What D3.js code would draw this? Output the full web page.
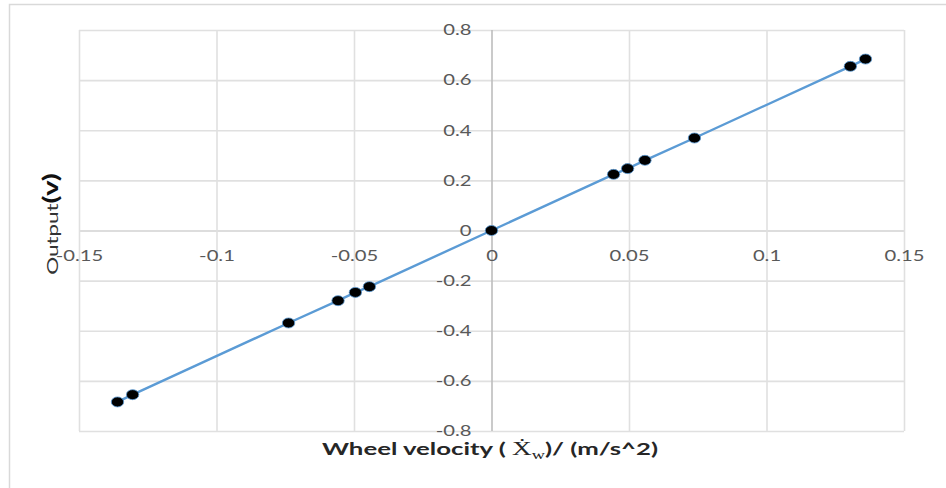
<!DOCTYPE html>
<html>
<head>
<meta charset="utf-8">
<script src="https://cdn.jsdelivr.net/npm/d3@7/dist/d3.min.js"></script>
<style>
  html, body { margin: 0; padding: 0; background: #fff; }
  svg { display: block; }
</style>
</head>
<body>
<div id="chart"></div>
<script>
// Wheel velocity vs. sensor output
const wheelVelocity = [-0.136, -0.1305, -0.0738, -0.0558, -0.0495, -0.0444, 0, 0.0444, 0.0495, 0.0558, 0.0738, 0.1305, 0.136];
const outputVolts   = [-0.684, -0.655, -0.369, -0.280, -0.247, -0.224, 0, 0.224, 0.247, 0.280, 0.369, 0.655, 0.684];

const xTicks = [-0.15, -0.1, -0.05, 0, 0.05, 0.1, 0.15];
const xTickLabels = ["-0.15", "-0.1", "-0.05", "0", "0.05", "0.1", "0.15"];
const yTicks = [-0.8, -0.6, -0.4, -0.2, 0, 0.2, 0.4, 0.6, 0.8];
const yTickLabels = ["-0.8", "-0.6", "-0.4", "-0.2", "0", "0.2", "0.4", "0.6", "0.8"];

const W = 946, H = 488;
const plot = { left: 79, right: 904, top: 30, bottom: 431 };
const labelFont = "Lato, 'Open Sans', 'Liberation Sans', sans-serif";
const stretch = "scale(1.35,1)";

const svg = d3.select("#chart").append("svg")
  .attr("width", W).attr("height", H);

// chart frame
svg.append("rect")
  .attr("x", 9.5).attr("y", 4.5)
  .attr("width", W + 20).attr("height", H + 20)
  .attr("fill", "#fff").attr("stroke", "#d9d9d9").attr("stroke-width", 1.5);

const x = d3.scaleLinear().domain([-0.15, 0.15]).range([plot.left, plot.right]);
const y = d3.scaleLinear().domain([-0.8, 0.8]).range([plot.bottom, plot.top]);

// gridlines
const gx = svg.append("g")
  .attr("transform", `translate(0,${plot.bottom})`)
  .call(d3.axisBottom(x).tickValues(xTicks).tickSize(-(plot.bottom - plot.top)).tickFormat(""));
gx.select(".domain").remove();
gx.selectAll(".tick line")
  .attr("stroke", d => d === 0 ? "#bdbdbd" : "#e0e0e0")
  .attr("stroke-width", 1.6);

const gy = svg.append("g")
  .attr("transform", `translate(${plot.left},0)`)
  .call(d3.axisLeft(y).tickValues(yTicks).tickSize(-(plot.right - plot.left)).tickFormat(""));
gy.select(".domain").remove();
gy.selectAll(".tick line")
  .attr("stroke", d => d === 0 ? "#d2d2d2" : "#e0e0e0")
  .attr("stroke-width", 1.6);
gx.raise();

// y tick labels, sitting left of the vertical zero axis
const yLab = svg.append("g")
  .attr("transform", `translate(${x(0) - 20},0)`)
  .call(d3.axisLeft(y).tickValues(yTicks).tickSize(0).tickPadding(0)
    .tickFormat((d, i) => yTickLabels[i]));
yLab.select(".domain").remove();
yLab.selectAll(".tick text")
  .attr("x", 0)
  .attr("transform", stretch)
  .attr("font-family", labelFont).attr("font-size", 15)
  .attr("fill", "#595959");

// x tick labels, below the horizontal zero axis
const xLab = svg.append("g")
  .attr("transform", `translate(0,${y(0)})`)
  .call(d3.axisBottom(x).tickValues(xTicks).tickSize(0).tickPadding(0)
    .tickFormat((d, i) => xTickLabels[i]));
xLab.select(".domain").remove();
xLab.selectAll(".tick text")
  .attr("y", 20)
  .attr("transform", stretch)
  .attr("font-family", labelFont).attr("font-size", 15)
  .attr("fill", "#595959");

// series line and markers
const pts = wheelVelocity.map((v, i) => [v, outputVolts[i]]);
svg.append("path")
  .datum(pts)
  .attr("d", d3.line().x(d => x(d[0])).y(d => y(d[1])))
  .attr("fill", "none")
  .attr("stroke", "#5b9bd5")
  .attr("stroke-width", 2.4);

svg.append("g").selectAll("ellipse")
  .data(pts).join("ellipse")
  .attr("cx", d => x(d[0])).attr("cy", d => y(d[1]))
  .attr("rx", 6.2).attr("ry", 5)
  .attr("fill", "#000")
  .attr("stroke", "#5b9bd5").attr("stroke-width", 0.8);

// y axis title
const yTitle = svg.append("text")
  .attr("transform", "translate(58,224) rotate(-90) scale(1.4,1)")
  .attr("text-anchor", "middle")
  .attr("font-family", labelFont);
yTitle.append("tspan").attr("font-size", 16).attr("fill", "#333").text("Output");
yTitle.append("tspan").attr("font-size", 21).attr("font-weight", "bold").attr("fill", "#111").text("(v)");

// x axis title
const xTitle = svg.append("text")
  .attr("x", 490).attr("y", 455)
  .attr("text-anchor", "middle")
  .attr("textLength", 336).attr("lengthAdjust", "spacingAndGlyphs")
  .attr("font-family", labelFont).attr("font-size", 17)
  .attr("font-weight", "bold").attr("fill", "#262626");
xTitle.append("tspan").text("Wheel velocity ( ");
xTitle.append("tspan")
  .attr("font-family", "'Liberation Serif', 'DejaVu Serif', serif")
  .attr("font-weight", "normal").attr("font-size", 18).text("Ẋ");
xTitle.append("tspan")
  .attr("font-family", "'Liberation Serif', 'DejaVu Serif', serif")
  .attr("font-weight", "normal").attr("font-size", 12)
  .attr("dy", 4).text("w");
xTitle.append("tspan").attr("dy", -4).text(")/ (m/s^2)");
</script>
</body>
</html>
